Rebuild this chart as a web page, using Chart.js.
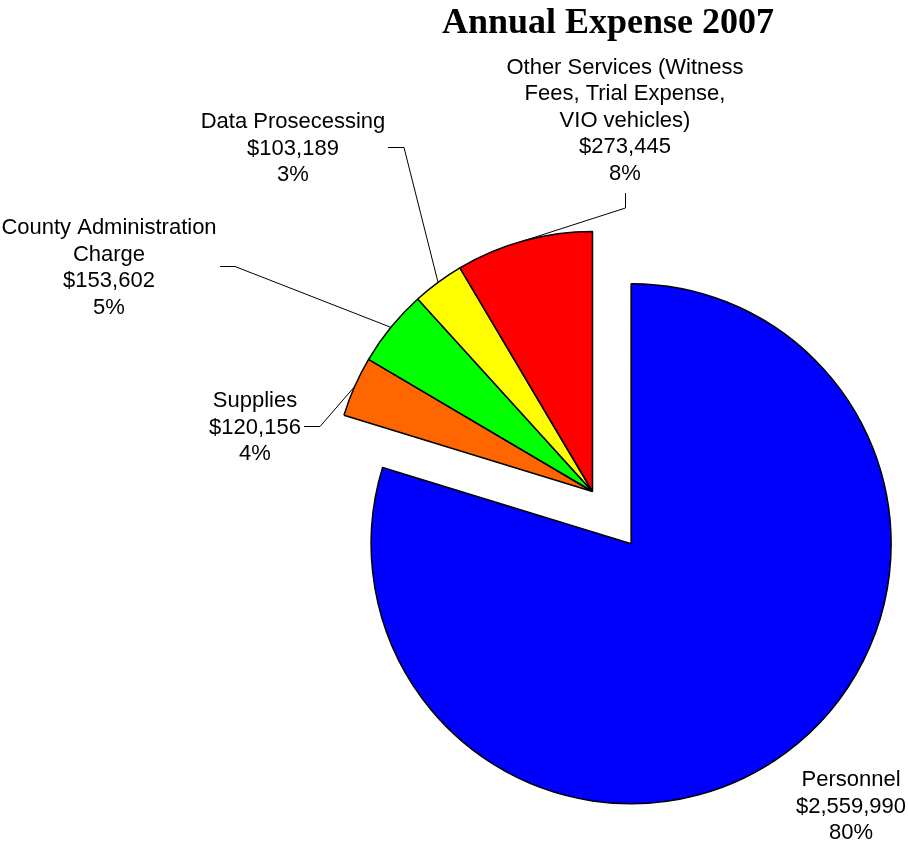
<!DOCTYPE html>
<html lang="en">
<head>
    <meta charset="UTF-8">
    <title>Annual Expense 2007</title>
    <script src="https://cdn.jsdelivr.net/npm/chart.js"></script>
    <style>
        html, body {
            margin: 0;
            padding: 0;
            background: #fff;
        }
        .chart-box {
            position: relative;
            width: 908px;
            height: 844px;
        }
    </style>
</head>
<body>
    <div class="chart-box">
        <canvas id="expenseChart"></canvas>
    </div>

    <script>
        // Chart data
        const chartTitle = 'Annual Expense 2007';
        const categories = [
            ['Personnel'],
            ['Supplies'],
            ['County Administration', 'Charge'],
            ['Data Prosecessing'],
            ['Other Services (Witness', 'Fees, Trial Expense,', 'VIO vehicles)']
        ];
        const amounts = [2559990, 120156, 153602, 103189, 273445];
        const percentLabels = ['80%', '4%', '5%', '3%', '8%'];

        // Styling / layout
        const sliceColors = ['#0000ff', '#ff6600', '#00ff00', '#ffff00', '#ff0000'];
        const explode = [65, 0, 0, 0, 0];   // px the slice is pulled out
        const lineH = 26.5;
        const labelLayout = [
            { x: 851, y: 786, leader: null },
            { x: 255, y: 407, leader: [[304, 426.5], [320, 426.5]] },
            { x: 109, y: 234, leader: [[220, 266.5], [235, 266.5]] },
            { x: 293, y: 128, leader: [[388, 147.5], [404, 147.5]] },
            { x: 625, y: 73.5, leader: [[625.5, 193], [625.5, 208]] }
        ];

        function formatMoney(v) {
            return '$' + String(v).replace(/\B(?=(\d{3})+(?!\d))/g, ',');
        }

        // Chart.js grows the radius of an offset slice and trims its angle
        // as well as moving it; undo both so the pulled-out slice keeps its shape
        const explodeFix = {
            id: 'explodeFix',
            afterDatasetUpdate(chart, args) {
                chart.getDatasetMeta(args.index).data.forEach(arc => {
                    const off = (arc.options.offset || 0) / 4;
                    if (!off) return;
                    const fix = 1 - Math.sin(Math.min(Math.PI, arc.circumference || 0));
                    const r = arc.outerRadius;
                    const grow = off * fix;
                    arc.outerRadius = r - grow;
                    const trim = (grow / Math.PI) / r / 2;
                    arc.startAngle -= trim;
                    arc.endAngle += trim;
                });
            }
        };

        // Title, data labels and leader lines
        const pieLabels = {
            id: 'pieLabels',
            afterDraw(chart) {
                const ctx = chart.ctx;
                const arcs = chart.getDatasetMeta(0).data;
                ctx.save();
                ctx.fillStyle = '#000';
                ctx.textAlign = 'center';
                ctx.textBaseline = 'alphabetic';
                ctx.font = 'bold 36px "Liberation Serif", "Times New Roman", serif';
                ctx.fillText(chartTitle, 608, 33);

                ctx.font = '22px "Liberation Sans", Arial, sans-serif';
                ctx.strokeStyle = '#000';
                ctx.lineWidth = 1;
                categories.forEach((lines, i) => {
                    const pos = labelLayout[i];
                    const text = lines.concat([formatMoney(amounts[i]), percentLabels[i]]);
                    text.forEach((t, k) => ctx.fillText(t, pos.x, pos.y + k * lineH));

                    if (pos.leader) {
                        const a = arcs[i];
                        const mid = (a.startAngle + a.endAngle) / 2;
                        ctx.beginPath();
                        ctx.moveTo(pos.leader[0][0], pos.leader[0][1]);
                        ctx.lineTo(pos.leader[1][0], pos.leader[1][1]);
                        ctx.lineTo(a.x + Math.cos(mid) * a.outerRadius, a.y + Math.sin(mid) * a.outerRadius);
                        ctx.stroke();
                    }
                });
                ctx.restore();
            }
        };

        const ctx = document.getElementById('expenseChart').getContext('2d');
        new Chart(ctx, {
            type: 'pie',
            data: {
                labels: categories.map(c => c.join(' ')),
                datasets: [{
                    data: amounts,
                    backgroundColor: sliceColors,
                    borderColor: '#000',
                    borderWidth: 1.5,
                    offset: c => explode[c.dataIndex] * 4,
                    radius: 260
                }]
            },
            options: {
                responsive: true,
                maintainAspectRatio: false,
                animation: false,
                events: [],
                layout: {
                    padding: { left: 277, right: 0, top: 139, bottom: 0 }
                },
                plugins: {
                    legend: { display: false },
                    tooltip: { enabled: false },
                    title: { display: false }
                }
            },
            plugins: [explodeFix, pieLabels]
        });
    </script>
</body>
</html>
